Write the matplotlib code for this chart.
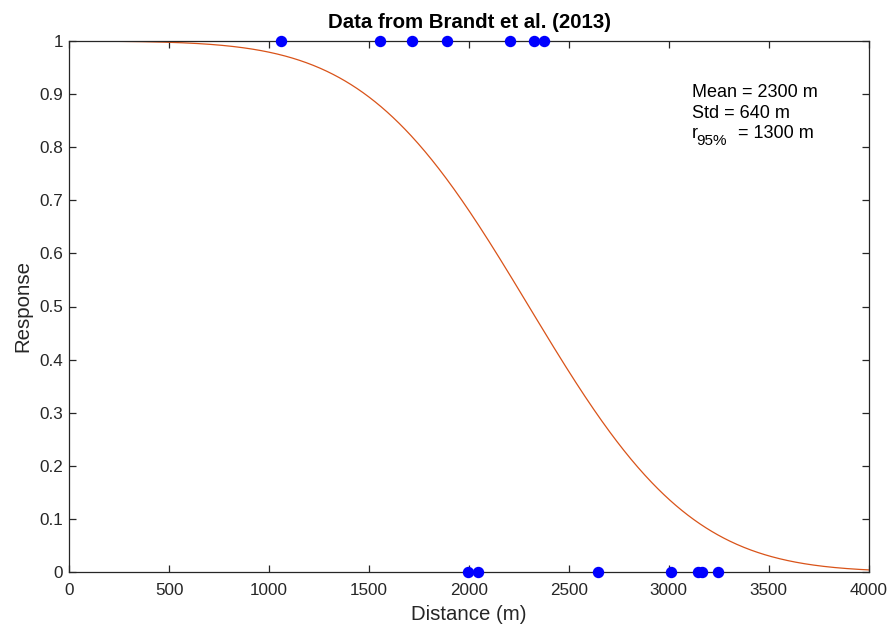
import math
import numpy as np
import matplotlib
matplotlib.use("Agg")
import matplotlib.pyplot as plt

plt.rcParams['font.family'] = ['Liberation Sans', 'DejaVu Sans']

# Data
responders_x = [1060, 1553, 1717, 1891, 2207, 2326, 2374]   # response = 1
nonresp_x = [1996, 2046, 2646, 3011, 3146, 3166, 3245]      # response = 0
fit_mean = 2300
fit_std = 640
r95 = 1300
x_ticks = [0, 500, 1000, 1500, 2000, 2500, 3000, 3500, 4000]
y_ticks = [0, 0.1, 0.2, 0.3, 0.4, 0.5, 0.6, 0.7, 0.8, 0.9, 1]
y_ticklabels = ['0', '0.1', '0.2', '0.3', '0.4', '0.5', '0.6', '0.7', '0.8', '0.9', '1']

W, H = 890, 624
fig = plt.figure(figsize=(W / 100, H / 100), dpi=100)
ax = fig.add_axes([69.3 / W, 52 / H, 799.4 / W, 531 / H])

xs = np.linspace(0, 4000, 801)
curve = [0.5 * (1 - math.erf((v - fit_mean) / (fit_std * math.sqrt(2)))) for v in xs]
ax.plot(xs, curve, color='#D95319', lw=0.9)

ax.plot(responders_x, [1] * len(responders_x), 'o', color='#0000FF', ms=7.2,
        mec='#0000FF', clip_on=False, zorder=5)
ax.plot(nonresp_x, [0] * len(nonresp_x), 'o', color='#0000FF', ms=7.2,
        mec='#0000FF', clip_on=False, zorder=5)

ax.set_xlim(0, 4000)
ax.set_ylim(0, 1)
ax.set_xticks(x_ticks)
ax.set_xticklabels([str(t) for t in x_ticks])
ax.set_yticks(y_ticks)
ax.set_yticklabels(y_ticklabels)

gray = '#262626'
for s in ax.spines.values():
    s.set_color(gray)
    s.set_linewidth(0.9)
ax.tick_params(direction='in', length=5, width=0.9, color=gray, labelcolor=gray,
               labelsize=12.3, top=True, right=True)
ax.tick_params(axis='x', pad=8)
ax.tick_params(axis='y', pad=4.5)

ax.set_xlabel('Distance (m)', fontsize=14.7, color=gray, labelpad=5)
ax.set_ylabel('Response', fontsize=14.7, color=gray, labelpad=5)
ax.set_title('Data from Brandt et al. (2013)', fontsize=14.7, fontweight='bold',
             color='black', pad=9.5)

def py2y(py):
    return (572 - py) / 531.0

def px2x(px):
    return (px - 69.3) * 5.0

kw = dict(color='black', va='baseline', ha='left', fontsize=13)
ax.text(px2x(692.7), py2y(96.7), 'Mean = %d m' % fit_mean, **kw)
ax.text(px2x(692.7), py2y(118.3), 'Std = %d m' % fit_std, **kw)
ax.text(px2x(692.7), py2y(138.5), 'r', **kw)
ax.text(px2x(697), py2y(145), '95%', color='black', va='baseline', ha='left', fontsize=11)
ax.text(px2x(739), py2y(138.5), '= %d m' % r95, **kw)

fig.savefig('out.png', dpi=100)
